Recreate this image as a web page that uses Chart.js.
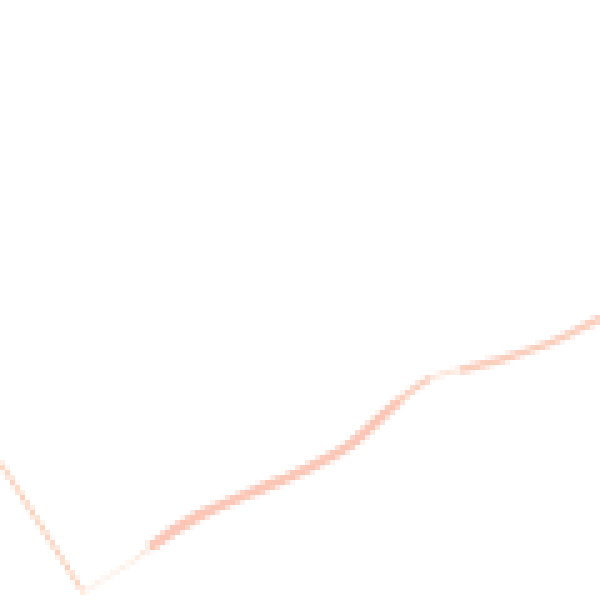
<!DOCTYPE html>
<html lang="en">
<head>
  <meta charset="UTF-8" />
  <title>Line fragment</title>
  <script src="https://cdn.jsdelivr.net/npm/chart.js"></script>
  <style>
    html, body { margin: 0; padding: 0; background: #ffffff; }
    /* chart is drawn small, then blown up so the pixels show */
    #linha {
      display: block;
      width: 600px !important;
      height: 600px !important;
      image-rendering: pixelated;
    }
  </style>
</head>
<body>
<canvas id="linha" width="120" height="120" style="width:600px;height:600px"></canvas>

<script>
  // descending leg (straight) and rising curve
  const xQueda = [0, 16.6, 28];
  const yQueda = [27.6, 1.6, 8.6];

  const xSubida = [28, 30, 40, 50, 60, 70, 80, 86, 92, 100, 110, 120];
  const ySubida = [8.6, 10.6, 17, 21.4, 25.6, 31, 40, 44.4, 46, 48, 51.4, 56.4];

  const junta = (xs, ys) => xs.map((x, i) => ({ x: x, y: ys[i] }));

  const corQueda = ctx => ctx.p0DataIndex === 0 ? 'rgba(250,170,130,0.55)' : 'rgba(250,175,140,0.3)';
  const larguraQueda = ctx => ctx.p0DataIndex === 0 ? 1 : 0.6;

  const corSubida = ctx => {
    const i = ctx.p0DataIndex;
    if (i === 0) return 'rgba(250,170,135,0.4)';
    if (i === 7) return 'rgba(250,175,140,0.45)';
    if (i === 6) return 'rgba(248,160,125,0.5)';
    if (i >= 8) return 'rgba(248,155,120,0.5)';
    return 'rgba(247,145,115,0.52)';
  };

  const larguraSubida = ctx => {
    const i = ctx.p0DataIndex;
    if (i === 0) return 1;
    if (i === 7) return 0.7;
    if (i === 6) return 1.3;
    if (i >= 8) return 1.4;
    return 2;
  };

  new Chart(document.getElementById('linha').getContext('2d'), {
    type: 'line',
    data: {
      datasets: [{
        data: junta(xQueda, yQueda),
        borderColor: 'rgba(250,170,130,0.55)',
        pointRadius: 0,
        tension: 0,
        segment: { borderColor: corQueda, borderWidth: larguraQueda }
      }, {
        data: junta(xSubida, ySubida),
        borderColor: 'rgba(247,145,115,0.52)',
        pointRadius: 0,
        cubicInterpolationMode: 'monotone',
        segment: { borderColor: corSubida, borderWidth: larguraSubida }
      }]
    },
    options: {
      responsive: false,
      animation: false,
      devicePixelRatio: 1,
      layout: { padding: 0 },
      plugins: { legend: { display: false }, tooltip: { enabled: false } },
      scales: {
        x: { type: 'linear', min: 0, max: 120, display: false },
        y: { type: 'linear', min: 0, max: 120, display: false }
      }
    }
  });
</script>
</body>
</html>
